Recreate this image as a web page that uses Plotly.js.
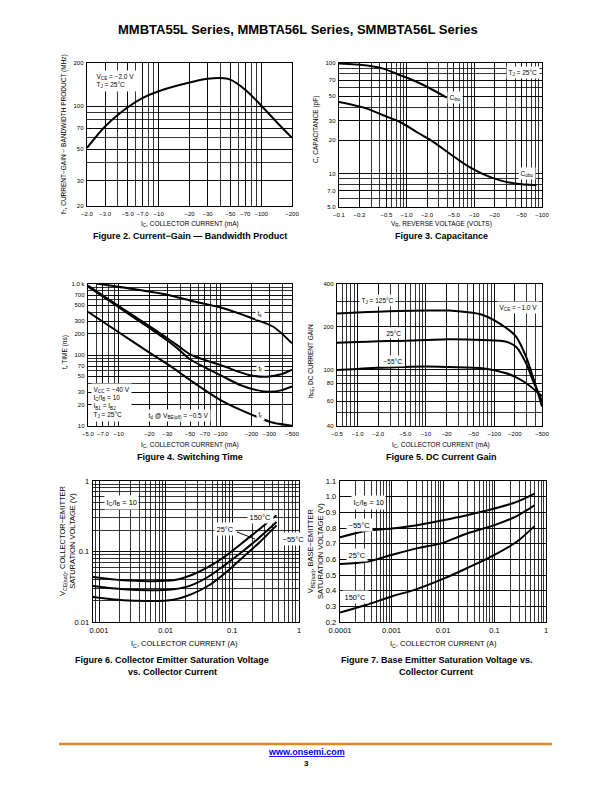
<!DOCTYPE html>
<html><head><meta charset="utf-8">
<script src="https://cdn.plot.ly/plotly-3.0.1.min.js"></script>
<style>html,body{margin:0;padding:0;background:#fff}#c{width:612px;height:792px}</style>
</head><body><div id="c"></div>
<script>
// ---------- DATA ----------
// Figure 2: fT vs IC (mA, magnitude)
const f2_ic = [2, 3, 5, 7, 10, 20, 30, 40, 50, 70, 100, 150, 200];
const f2_ft = [51, 72, 98, 114, 127, 146, 155, 157, 153, 130, 101, 74, 60];
const f2_xlabV = [2, 3, 5, 7, 10, 20, 30, 50, 70, 100, 200];
const f2_xlabT = ["−2.0","−3.0","−5.0","−7.0","−10","−20","−30","−50","−70","−100","−200"];
const f2_ylabV = [20, 30, 50, 70, 100, 200];
const f2_ylabT = ["20","30","50","70","100","200"];
// Figure 3: capacitance vs VR (V, magnitude)
const f3_cibo_v = [0.1, 0.26, 0.45, 0.8, 1.1, 2.0, 3.9];
const f3_cibo_c = [99, 95, 89, 77.5, 72, 61, 48.6];
const f3_cobo_v = [0.1, 0.26, 0.45, 0.8, 1.4, 2.5, 4.3, 7.7, 13.5, 24, 42, 83];
const f3_cobo_c = [44.4, 38.7, 33.7, 29.3, 23.8, 19.3, 15.2, 11.9, 9.9, 8.7, 8.1, 7.85];
const f3_xlabV = [0.1, 0.2, 0.5, 1, 2, 5, 10, 20, 50, 100];
const f3_xlabT = ["−0.1","−0.2","−0.5","−1.0","−2.0","−5.0","−10","−20","−50","−100"];
const f3_ylabV = [5, 7, 10, 20, 30, 50, 70, 100];
const f3_ylabT = ["5.0","7.0","10","20","30","50","70","100"];
// Figure 4: switching times (ns) vs IC (mA)
const f4_ts_i = [6, 14.5, 30.6, 50, 106, 225, 328, 500];
const f4_ts_t = [1020, 842, 700, 585, 455, 311, 250, 146];
const f4_tf_i = [5, 10, 20, 30, 40, 50, 70, 106, 150, 193, 282, 400, 500];
const f4_tf_t = [950, 490, 255, 172, 128, 102, 85, 70, 58, 52, 49.5, 54, 62];
const f4_td_i = [5, 10, 20, 30, 40, 50, 70, 106, 155, 225, 305, 400, 500];
const f4_td_t = [920, 470, 240, 160, 115, 87, 67, 49.5, 37.8, 32, 30.4, 32, 36];
const f4_tr_i = [5, 10, 20, 34, 50, 106, 225, 328, 500];
const f4_tr_t = [407, 209, 108, 66, 44.5, 22, 13.5, 11.1, 10.1];
const f4_xlabV = [5, 7, 10, 20, 30, 50, 70, 100, 200, 300, 500];
const f4_xlabT = ["−5.0","−7.0","−10","−20","−30","−50","−70","−100","−200","−300","−500"];
const f4_ylabV = [10, 20, 30, 50, 70, 100, 200, 300, 500, 700, 1000];
const f4_ylabT = ["10","20","30","50","70","100","200","300","500","700","1.0 k"];
// Figure 5: hFE vs IC (mA)
const f5_125_i = [0.5, 1, 2, 4, 10, 22, 68, 150, 210, 294, 367, 500];
const f5_125_h = [248, 252, 255, 258, 260, 260, 242, 196, 170, 122, 89, 55];
const f5_25_i = [0.5, 1, 2, 4, 10, 22, 68, 150, 210, 294, 367, 500];
const f5_25_h = [154, 156, 158, 159, 161, 163, 161, 157, 144, 110, 84, 60];
const f5_m55_i = [0.5, 1, 2, 4, 10, 22, 68, 150, 210, 294, 500];
const f5_m55_h = [99, 101, 103, 104, 105, 104, 102, 94, 88, 80, 65];
const f5_xlabV = [0.5, 1, 2, 5, 10, 20, 50, 100, 200, 500];
const f5_xlabT = ["−0.5","−1.0","−2.0","−5.0","−10","−20","−50","−100","−200","−500"];
const f5_ylabV = [40, 60, 80, 100, 200, 400];
const f5_ylabT = ["40","60","80","100","200","400"];
// Figure 6: VCE(sat) vs IC (A)
const f6_ic = [0.0008, 0.0023, 0.0058, 0.013, 0.024, 0.043, 0.076, 0.136, 0.243, 0.46];
const f6_150 = [0.0435, 0.039, 0.038, 0.039, 0.046, 0.06, 0.084, 0.129, 0.2, 0.326];
const f6_25 = [0.0324, 0.0291, 0.0281, 0.0291, 0.0331, 0.0435, 0.0636, 0.0965, 0.152, 0.262];
const f6_m55 = [0.0226, 0.0203, 0.0198, 0.0207, 0.0247, 0.0324, 0.0485, 0.0792, 0.129, 0.235];
const f6_xlabV = [0.001, 0.01, 0.1, 1];
const f6_xlabT = ["0.001","0.01","0.1","1"];
const f6_ylabV = [0.01, 0.1, 1];
const f6_ylabT = ["0.01","0.1","1"];
// Figure 7: VBE(sat) vs IC (A)
const f7_ic = [0.0001, 0.00033, 0.001, 0.0031, 0.01, 0.029, 0.1, 0.27, 0.6];
const f7_m55 = [0.74, 0.782, 0.797, 0.818, 0.85, 0.882, 0.924, 0.967, 1.02];
const f7_25 = [0.571, 0.585, 0.628, 0.67, 0.705, 0.765, 0.818, 0.876, 0.945];
const f7_150 = [0.26, 0.31, 0.363, 0.41, 0.475, 0.543, 0.628, 0.712, 0.812];
const f7_xlabV = [0.0001, 0.001, 0.01, 0.1, 1];
const f7_xlabT = ["0.0001","0.001","0.01","0.1","1"];
const f7_ylabV = [0.2,0.3,0.4,0.5,0.6,0.7,0.8,0.9,1.0,1.1];
const f7_ylabT = ["0.2","0.3","0.4","0.5","0.6","0.7","0.8","0.9","1.0","1.1"];

// ---------- LAYOUT HELPERS ----------
const W = 612, H = 792;
const FN = "'Liberation Sans Narrow', 'Liberation Sans', Arial, sans-serif";
const FR = "'Liberation Sans', Arial, sans-serif";
function logGrid(lo, hi){
  const out = [];
  for (let k = -6; k <= 4; k++) for (let m = 1; m <= 9; m++){
    const v = m * Math.pow(10, k);
    if (v >= lo*0.999 && v <= hi*1.001) out.push(v);
  }
  return out;
}
function linGrid(lo, hi, step){
  const out = [];
  for (let v = lo; v <= hi + step*0.01; v += step) out.push(Math.round(v*1000)/1000);
  return out;
}
function ticks(grid, labV, labT){
  return {tickmode:'array', tickvals:labV, ticktext:labT,
    minor:{tickmode:'array', tickvals:grid, showgrid:true, gridcolor:'black', gridwidth:0.8, ticks:''}};
}
// plot boxes in page pixels [x0, x1, y0(top), y1(bottom)]
const boxes = [[87,292,63,206],[339,542,63,207],[88,292,284,426],[337,542,284,426],[93,299,481,622],[340,546,481,622]];
const layout = {width:W, height:H, margin:{l:0,r:0,t:0,b:0}, paper_bgcolor:'white', plot_bgcolor:'white',
  showlegend:false, annotations:[], shapes:[]};
function axis(i, type, range, tk, fsize, isX){
  const b = boxes[i];
  const a = Object.assign({type:type, range:range, showline:true, mirror:true, linecolor:'black', linewidth:1.3,
    showgrid:true, gridcolor:'black', gridwidth:0.8, zeroline:false, ticks:'', fixedrange:true, tickangle:0,
    tickfont:{family: fsize < 7 ? FN : FR, size:fsize, color:'black'}, ticklabelstandoff:1}, tk);
  if (isX){ a.domain = [b[0]/W, b[1]/W]; a.anchor = 'y'+(i?i+1:''); }
  else { a.domain = [1-b[3]/H, 1-b[2]/H]; a.anchor = 'x'+(i?i+1:''); }
  return a;
}
const L10 = Math.log10;
const axes = [
  [axis(0,'log',[L10(2),L10(200)], ticks(logGrid(2,200), f2_xlabV, f2_xlabT), 6, true),
   axis(0,'log',[L10(20),L10(200)], ticks(logGrid(20,200), f2_ylabV, f2_ylabT), 6, false)],
  [axis(1,'log',[L10(0.1),L10(100)], ticks(logGrid(0.1,100), f3_xlabV, f3_xlabT), 6, true),
   axis(1,'log',[L10(5),L10(100)], ticks(logGrid(5,100), f3_ylabV, f3_ylabT), 6, false)],
  [axis(2,'log',[L10(5),L10(500)], ticks(logGrid(5,500), f4_xlabV, f4_xlabT), 6, true),
   axis(2,'log',[L10(10),L10(1000)], ticks(logGrid(10,1000), f4_ylabV, f4_ylabT), 6, false)],
  [axis(3,'log',[L10(0.5),L10(500)], ticks(logGrid(0.5,500), f5_xlabV, f5_xlabT), 6, true),
   axis(3,'log',[L10(40),L10(400)], ticks(logGrid(40,400), f5_ylabV, f5_ylabT), 6, false)],
  [axis(4,'log',[-3.09, 0], ticks(logGrid(0.0008,1), f6_xlabV, f6_xlabT), 7.5, true),
   axis(4,'log',[-2, 0], ticks(logGrid(0.01,1), f6_ylabV, f6_ylabT), 7.5, false)],
  [axis(5,'log',[-4, 0], ticks(logGrid(0.0001,1), f7_xlabV, f7_xlabT), 7.5, true),
   axis(5,'linear',[0.2, 1.1], ticks(linGrid(0.2,1.1,0.1), f7_ylabV, f7_ylabT), 7.5, false)]
];
axes.forEach((p,i) => { const s = i ? String(i+1) : ''; layout['xaxis'+s] = p[0]; layout['yaxis'+s] = p[1]; });

// ---------- TRACES ----------
const traces = [];
function curve(i, x, y){
  const s = i ? String(i+1) : '';
  traces.push({type:'scatter', mode:'lines', x:x, y:y, xaxis:'x'+s, yaxis:'y'+s, hoverinfo:'skip',
    line:{color:'black', width:2, shape:'spline', smoothing:0.8}});
}
curve(0, f2_ic, f2_ft);
curve(1, f3_cibo_v, f3_cibo_c); curve(1, f3_cobo_v, f3_cobo_c);
curve(2, f4_ts_i, f4_ts_t); curve(2, f4_tf_i, f4_tf_t); curve(2, f4_td_i, f4_td_t); curve(2, f4_tr_i, f4_tr_t);
curve(3, f5_125_i, f5_125_h); curve(3, f5_25_i, f5_25_h); curve(3, f5_m55_i, f5_m55_h);
curve(4, f6_ic, f6_150); curve(4, f6_ic, f6_25); curve(4, f6_ic, f6_m55);
curve(5, f7_ic, f7_m55); curve(5, f7_ic, f7_25); curve(5, f7_ic, f7_150);

// ---------- TEXT ----------
function txt(px, py, text, opt){
  opt = opt || {};
  layout.annotations.push(Object.assign({xref:'paper', yref:'paper', x:px/W, y:1-py/H, text:text, showarrow:false,
    xanchor:'center', yanchor:'middle', font:{family:opt.fam||FR, size:opt.size||6.5, color:opt.color||'black'}},
    opt.extra||{}));
}
function box(px, py, text, opt){
  opt = opt || {};
  txt(px, py, text, {fam:opt.fam||FN, size:opt.size||6.5, extra:Object.assign({bgcolor:'white', borderpad:1.5, align:opt.align||'left', xanchor:opt.xa||'left'}, opt.extra||{})});
}
// page header
txt(298, 30, "<b>MMBTA55L Series, MMBTA56L Series, SMMBTA56L Series</b>", {size:13});
// Fig 2
box(94, 81, "V<sub>CE</sub> = −2.0 V<br>T<sub>J</sub> = 25°C");
txt(190, 224, "I<sub>C</sub>, COLLECTOR CURRENT (mA)", {fam:FN, size:6.5});
txt(190, 236, "<b>Figure 2. Current−Gain — Bandwidth Product</b>", {size:9});
txt(64, 134, "f<sub>T</sub>, CURRENT−GAIN − BANDWIDTH PRODUCT (MHz)", {fam:FN, size:6.5, extra:{textangle:-90}});
// Fig 3
box(540, 73, "T<sub>J</sub> = 25°C", {xa:'right'});
box(447, 98, "C<sub>ibo</sub>");
box(518, 173, "C<sub>obo</sub>");
txt(441, 224, "V<sub>R</sub>, REVERSE VOLTAGE (VOLTS)", {fam:FN, size:6.5});
txt(441, 236, "<b>Figure 3. Capacitance</b>", {size:9});
txt(316, 130, "C, CAPACITANCE (pF)", {fam:FN, size:6.5, extra:{textangle:-90}});
// Fig 4
box(255, 313, "t<sub>s</sub>");
box(256, 368, "t<sub>f</sub>");
box(256, 414, "t<sub>r</sub>");
box(91, 402, "V<sub>CC</sub> = −40 V<br>I<sub>C</sub>/I<sub>B</sub> = 10<br>I<sub>B1</sub> = I<sub>B2</sub><br>T<sub>J</sub> = 25°C");
box(178, 415, "t<sub>d</sub> @ V<sub>BE(off)</sub> = −0.5 V", {xa:'center'});
txt(190, 445, "I<sub>C</sub>, COLLECTOR CURRENT (mA)", {fam:FN, size:6.5});
txt(190, 457, "<b>Figure 4. Switching Time</b>", {size:9});
txt(65, 352, "t, TIME (ns)", {fam:FN, size:6.5, extra:{textangle:-90}});
// Fig 5
box(359, 300, "T<sub>J</sub> = 125°C");
box(384, 333, "25°C");
box(381, 361, "−55°C");
box(540, 307, "V<sub>CE</sub> = −1.0 V", {xa:'right'});
txt(441, 445, "I<sub>C</sub>, COLLECTOR CURRENT (mA)", {fam:FN, size:6.5});
txt(441, 457, "<b>Figure 5. DC Current Gain</b>", {size:9});
txt(311, 361, "h<sub>FE</sub>, DC CURRENT GAIN", {fam:FN, size:6.5, extra:{textangle:-90}});
// Fig 6
box(104, 502, "I<sub>C</sub>/I<sub>B</sub> = 10", {fam:FR, size:7.5});
box(247, 517, "150°C", {fam:FR, size:7.5});
box(214, 529, "25°C", {fam:FR, size:7.5});
box(280, 539, "−55°C", {fam:FR, size:7.5});
layout.shapes.push({type:'line', xref:'paper', yref:'paper', x0:237/W, y0:1-532/H, x1:255/W, y1:1-539/H, line:{color:'black', width:1}});
txt(184, 644, "I<sub>C</sub>, COLLECTOR CURRENT (A)", {size:7.5});
txt(172, 660, "<b>Figure 6. Collector Emitter Saturation Voltage</b>", {size:9});
txt(172, 672, "<b>vs. Collector Current</b>", {size:9});
txt(67, 541, "V<sub>CE(sat)</sub>, COLLECTOR−EMITTER<br>SATURATION VOLTAGE (V)", {size:7.5, extra:{textangle:-90}});
// Fig 7
box(351, 502, "I<sub>C</sub>/I<sub>B</sub> = 10", {fam:FR, size:7.5});
box(346, 525, "−55°C", {fam:FR, size:7.5});
box(346, 555, "25°C", {fam:FR, size:7.5});
box(342, 597, "150°C", {fam:FR, size:7.5});
txt(443, 644, "I<sub>C</sub>, COLLECTOR CURRENT (A)", {size:7.5});
txt(436, 660, "<b>Figure 7. Base Emitter Saturation Voltage vs.</b>", {size:9});
txt(436, 672, "<b>Collector Current</b>", {size:9});
txt(315, 551, "V<sub>BE(sat)</sub>, BASE−EMITTER<br>SATURATION VOLTAGE (V)", {size:7.5, extra:{textangle:-90}});
// footer
layout.shapes.push({type:'line', xref:'paper', yref:'paper', x0:59/W, y0:1-744/H, x1:552/W, y1:1-744/H, line:{color:'#E0842F', width:2.5}});
txt(306, 752, "<b>www.onsemi.com</b>", {extra:{font:{family:FR, size:9, color:'#0000EE', lineposition:'under'}}});
txt(306, 763, "<b>3</b>", {size:8});

Plotly.newPlot('c', traces, layout, {staticPlot:true, displayModeBar:false});
</script></body></html>
